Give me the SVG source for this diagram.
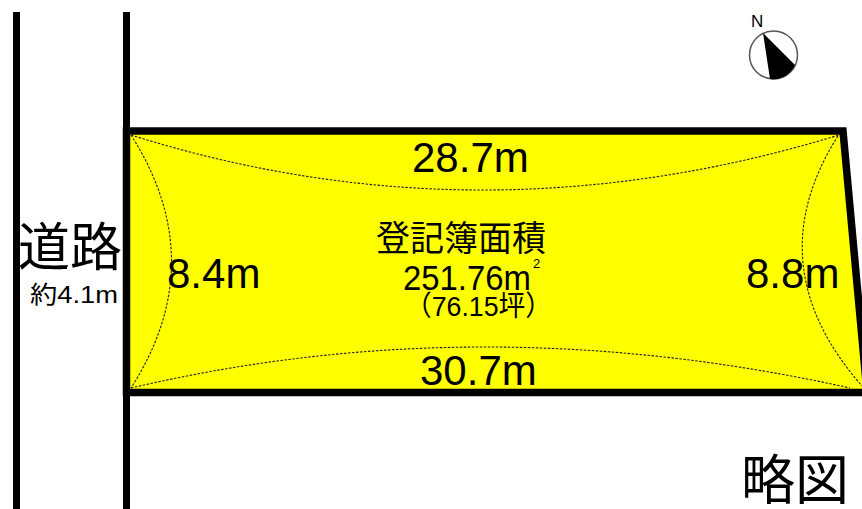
<svg xmlns="http://www.w3.org/2000/svg" width="862" height="509" viewBox="0 0 862 509">
<style>
.t{font-family:"Liberation Sans","Noto Sans CJK JP",sans-serif;fill:#000}
.j{font-family:"Noto Sans CJK JP","Liberation Sans",sans-serif;fill:#000}
.d{fill:none;stroke:#222;stroke-width:1.100;stroke-dasharray:2.500 1.500}
</style>
<rect width="862" height="509" fill="#fff"/>
<g id="road-lines">
<rect x="13" y="12" width="7" height="497" fill="#000"/>
<rect x="123" y="12" width="7" height="497" fill="#000"/>
</g>
<g id="lot">
<path d="M126.500 131H843L867 392.500H126.500Z" fill="#ffff00" stroke="#000" stroke-width="7.500"/>
</g>
<g id="connectors">
<path class="d" d="M131 135Q480 245 839 135"/>
<path class="d" d="M131 388Q480 306 850 388"/>
<path class="d" d="M131 135Q212 262 131 388"/>
<path class="d" d="M838 136Q756 265 862 386"/>
</g>
<g id="labels">
<text class="t" x="412" y="172" font-size="42">28.7m</text>
<text class="t" x="167" y="288" font-size="42">8.4m</text>
<text class="t" x="746" y="288" font-size="42">8.8m</text>
<text class="t" x="420" y="385" font-size="42">30.7m</text>
<text class="j" x="376" y="251" font-size="35" textLength="170" lengthAdjust="spacingAndGlyphs">登記簿面積</text>
<text class="t" x="403" y="290" font-size="35" textLength="128" lengthAdjust="spacingAndGlyphs">251.76m</text>
<text class="t" x="533" y="268" font-size="13">2</text>
<text class="t" x="405" y="316" font-size="28" textLength="147" lengthAdjust="spacingAndGlyphs">（76.15坪）</text>
<text class="j" x="18" y="266" font-size="52" textLength="104" lengthAdjust="spacingAndGlyphs">道路</text>
<text class="t" x="30" y="303" font-size="24" textLength="88" lengthAdjust="spacingAndGlyphs">約4.1m</text>
<text class="j" x="741" y="500" font-size="54" textLength="108" lengthAdjust="spacingAndGlyphs">略図</text>
</g>
<g id="north">
<text class="t" x="751" y="27" font-size="17">N</text>
<circle cx="773.500" cy="55" r="24" fill="#fff" stroke="#555" stroke-width="1.500"/>
<path d="M763 33L795 65A24 24 0 0 1 770 79Z" fill="#000"/>
</g>
</svg>
